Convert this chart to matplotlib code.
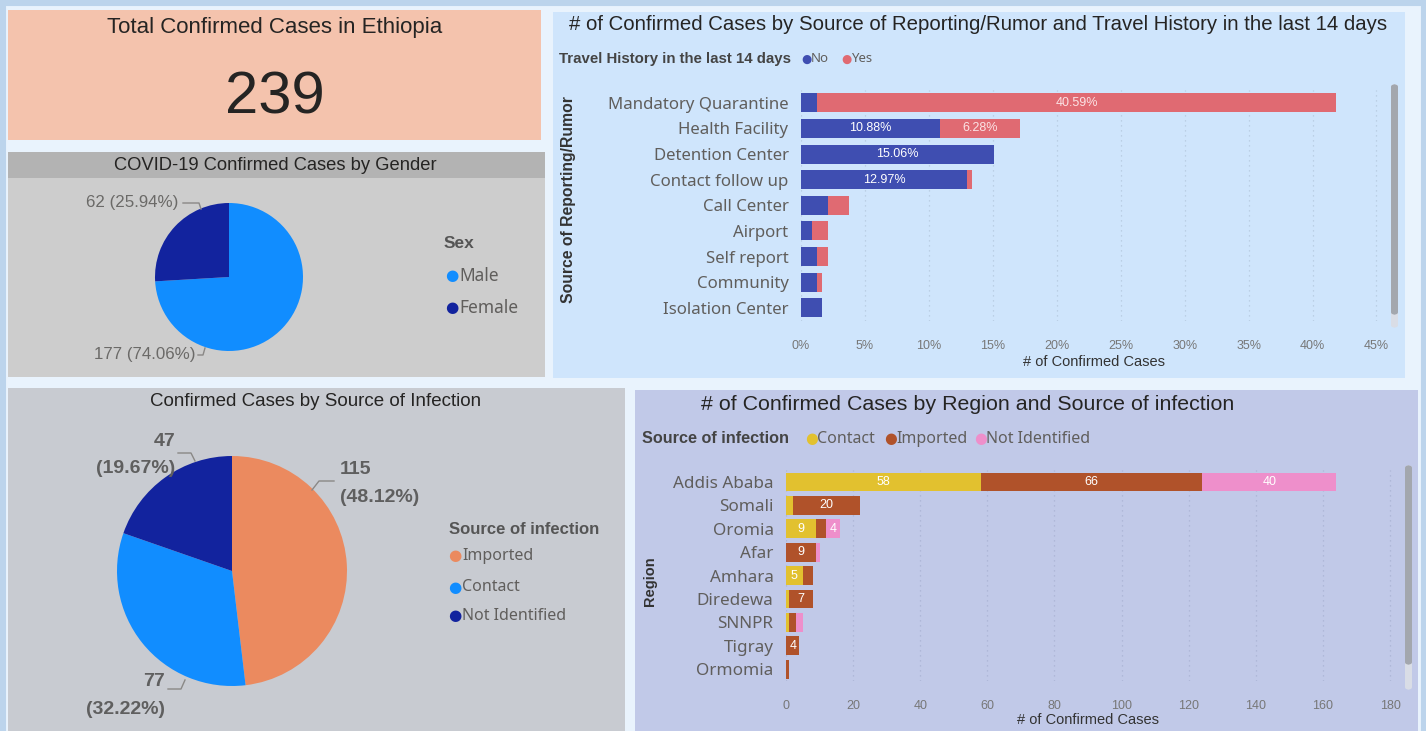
import matplotlib
matplotlib.use('Agg')
import matplotlib.pyplot as plt
from matplotlib.patches import Rectangle, FancyBboxPatch
from matplotlib.lines import Line2D
import numpy as np

W, H = 1426, 731

# ---- data ----
total_cases = 239

sex_labels = ['Male', 'Female']
sex_counts = [177, 62]

infection_labels = ['Imported', 'Contact', 'Not Identified']
infection_counts = [115, 77, 47]

sources = ['Mandatory Quarantine', 'Health Facility', 'Detention Center', 'Contact follow up',
           'Call Center', 'Airport', 'Self report', 'Community', 'Isolation Center']
travel_no = [1.26, 10.88, 15.06, 12.97, 2.09, 0.84, 1.26, 1.26, 1.67]
travel_yes = [40.59, 6.28, 0, 0.42, 1.67, 1.26, 0.84, 0.42, 0]

regions = ['Addis Ababa', 'Somali', 'Oromia', 'Afar', 'Amhara', 'Diredewa', 'SNNPR', 'Tigray', 'Ormomia']
reg_contact = [58, 2, 9, 0, 5, 1, 1, 0, 0]
reg_imported = [66, 20, 3, 9, 3, 7, 2, 4, 1]
reg_notid = [40, 0, 4, 1, 0, 0, 2, 0, 0]

# colours
c_no, c_yes = '#3f4eb1', '#e06a72'
c_contact, c_imported, c_notid = '#e2c12f', '#b0522a', '#ee8fcb'
c_male, c_female = '#118dff', '#12239e'
pie2_colors = ['#eb8a5f', '#118dff', '#12239e']

TITLE = ['Liberation Sans', 'DejaVu Sans']
BODY = ['Noto Sans', 'DejaVu Sans']
dark = '#252423'
gray = '#605e5c'

fig = plt.figure(figsize=(W / 100, H / 100), dpi=100)
fig.patch.set_facecolor('#e9f3fd')


def box(x0, y0, x1, y1):
    return [x0 / W, 1 - y1 / H, (x1 - x0) / W, (y1 - y0) / H]


def panel(x0, y0, x1, y1, color):
    fig.patches.append(Rectangle((x0 / W, 1 - y1 / H), (x1 - x0) / W, (y1 - y0) / H,
                                 transform=fig.transFigure, facecolor=color,
                                 edgecolor='none', zorder=-5))


def ftext(x, y, s, **kw):
    kw.setdefault('va', 'center')
    return fig.text(x / W, 1 - y / H, s, **kw)


def fline(xs, ys, color='#8a8886', lw=1):
    fig.add_artist(Line2D([x / W for x in xs], [1 - y / H for y in ys],
                          transform=fig.transFigure, color=color, lw=lw))


def scrollbar(x, y0, y1, y2):
    fig.patches.append(FancyBboxPatch((x / W, 1 - y2 / H), 7 / W, (y2 - y0) / H,
                                      boxstyle='round,pad=0,rounding_size=0.004',
                                      transform=fig.transFigure, facecolor='#d9dde6',
                                      edgecolor='none', zorder=-1))
    fig.patches.append(FancyBboxPatch((x / W, 1 - y1 / H), 7 / W, (y1 - y0) / H,
                                      boxstyle='round,pad=0,rounding_size=0.004',
                                      transform=fig.transFigure, facecolor='#a3a7ae',
                                      edgecolor='none', zorder=-1))


def dot_legend(x, y, title, labels, colors, size, gaps, bold_size):
    ftext(x, y, title, family=TITLE, fontsize=bold_size, fontweight='bold', color='#444')
    for lab, col, gx in zip(labels, colors, gaps):
        ftext(gx, y, '\u25cf', family=['DejaVu Sans'], fontsize=size - 1, color=col, ha='center')
        ftext(gx + 5, y, lab, family=BODY, fontsize=size, color=gray)


# outer frame (bottom edge is cut off in the screenshot)
fig.patches.append(Rectangle((0, -0.1), 1, 1.1, transform=fig.transFigure, facecolor='none',
                             edgecolor='#bcd4ec', lw=8, zorder=-6))

# ---- panels ----
panel(8, 10, 541, 140, '#f4c3ad')
panel(8, 152, 545, 377, '#cdcdcd')
panel(8, 152, 545, 178, '#b3b3b3')
panel(553, 12, 1405, 378, '#cfe5fc')
panel(8, 388, 625, 735, '#c8cbd1')
panel(635, 390, 1418, 735, '#c1c9e8')

# ---- KPI card ----
ftext(275, 27, 'Total Confirmed Cases in Ethiopia', family=TITLE, fontsize=16, color=dark, ha='center')
ftext(275, 98, f'{total_cases}', family=TITLE, fontsize=43, color=dark, ha='center')

# ---- gender pie ----
ftext(275, 166, 'COVID-19 Confirmed Cases by Gender', family=TITLE, fontsize=13.2, color=dark, ha='center')
cx, cy, r = 229, 277, 74
axp = fig.add_axes(box(cx - r, cy - r, cx + r, cy + r))
axp.pie(sex_counts, colors=[c_male, c_female], startangle=90, counterclock=False,
        wedgeprops=dict(linewidth=0))
axp.set_xlim(-1, 1)
axp.set_ylim(-1, 1)
tot = sum(sex_counts)
ftext(178, 203, f'{sex_counts[1]} ({sex_counts[1] / tot * 100:.2f}%)', family=TITLE, fontsize=12.2, color='#6b6a68', ha='right')
fline([183, 199, 201], [203, 203, 209])
ftext(195, 355, f'{sex_counts[0]} ({sex_counts[0] / tot * 100:.2f}%)', family=TITLE, fontsize=12.2, color='#6b6a68', ha='right')
fline([198, 203, 205], [355, 355, 348])
ftext(444, 244, 'Sex', family=TITLE, fontsize=12.5, fontweight='bold', color='#555')
for i, (lab, col) in enumerate(zip(sex_labels, [c_male, c_female])):
    ftext(452, 276 + 32 * i, '\u25cf', family=['DejaVu Sans'], fontsize=11, color=col, ha='center')
    ftext(459, 276 + 32 * i, lab, family=BODY, fontsize=12.5, color=gray)

# ---- source of infection pie ----
ftext(316, 401, 'Confirmed Cases by Source of Infection', family=TITLE, fontsize=13.5, color=dark, ha='center')
cx, cy, r = 232, 571, 115
axq = fig.add_axes(box(cx - r, cy - r, cx + r, cy + r))
axq.pie(infection_counts, colors=pie2_colors, startangle=90, counterclock=False,
        wedgeprops=dict(linewidth=0))
axq.set_xlim(-1, 1)
axq.set_ylim(-1, 1)
tot = sum(infection_counts)
lab_kw = dict(family=TITLE, fontsize=14, fontweight='bold', color='#5f5f5f')
ftext(340, 470, f'{infection_counts[0]}', ha='left', **lab_kw)
ftext(340, 497, f'({infection_counts[0] / tot * 100:.2f}%)', ha='left', **lab_kw)
fline([334, 319, 312], [481, 481, 490])
ftext(175, 441, f'{infection_counts[2]}', ha='right', **lab_kw)
ftext(175, 468, f'({infection_counts[2] / tot * 100:.2f}%)', ha='right', **lab_kw)
fline([178, 191, 195], [453, 453, 461])
ftext(165, 682, f'{infection_counts[1]}', ha='right', **lab_kw)
ftext(165, 710, f'({infection_counts[1] / tot * 100:.2f}%)', ha='right', **lab_kw)
fline([168, 181, 185], [689, 689, 680])
ftext(449, 530, 'Source of infection', family=TITLE, fontsize=12, fontweight='bold', color='#555')
for i, (lab, col) in enumerate(zip(infection_labels, pie2_colors)):
    yy = [556, 587, 616][i]
    ftext(455, yy, '\u25cf', family=['DejaVu Sans'], fontsize=11, color=col, ha='center')
    ftext(462, yy, lab, family=BODY, fontsize=11.5, color=gray)

# ---- travel history bar chart ----
ftext(978, 25, '# of Confirmed Cases by Source of Reporting/Rumor and Travel History in the last 14 days',
      family=TITLE, fontsize=14.7, color=dark, ha='center')
dot_legend(559, 59, 'Travel History in the last 14 days', ['No', 'Yes'], [c_no, c_yes], 9.5, [806, 846], 10.8)

ax1 = fig.add_axes(box(801, 90, 1388, 320.6))
ax1.set_facecolor('none')
yy = np.arange(len(sources))
ax1.barh(yy, travel_no, height=0.74, color=c_no, zorder=2)
ax1.barh(yy, travel_yes, left=travel_no, height=0.74, color=c_yes, zorder=2)
for i in range(len(sources)):
    if travel_no[i] >= 5:
        ax1.text(travel_no[i] / 2, i, f'{travel_no[i]:.2f}%', ha='center', va='center',
                 color='white', fontsize=9, family=TITLE, zorder=3)
    if travel_yes[i] >= 5:
        ax1.text(travel_no[i] + travel_yes[i] / 2, i, f'{travel_yes[i]:.2f}%', ha='center',
                 va='center', color='#fbe3e5', fontsize=9, family=TITLE, zorder=3)
ax1.set_ylim(len(sources) - 0.5, -0.5)
ax1.set_xlim(0, 45.9)
ax1.set_xticks(np.arange(0, 46, 5))
ax1.xaxis.set_major_formatter(lambda v, p: f'{v:.0f}%')
ax1.set_yticks(yy, sources)
ax1.tick_params(axis='x', length=0, pad=14, labelsize=9, labelcolor='#777')
ax1.tick_params(axis='y', length=0, pad=9, labelsize=12.1, labelcolor=gray)
for t in ax1.get_xticklabels():
    t.set_family(TITLE)
for t in ax1.get_yticklabels():
    t.set_family(BODY)
ax1.grid(axis='x', linestyle=(0, (1, 3)), color='#b5c9de', lw=0.9, zorder=0)
for s in ax1.spines.values():
    s.set_visible(False)
ftext(1094, 362, '# of Confirmed Cases', family=TITLE, fontsize=10.5, color='#333', ha='center')
ftext(569, 200, 'Source of Reporting/Rumor', family=TITLE, fontsize=11.3, fontweight='bold',
      color='#333', ha='center', rotation=90)
scrollbar(1391, 84, 315, 328)

# ---- region bar chart ----
ftext(968, 404, '# of Confirmed Cases by Region and Source of infection', family=TITLE,
      fontsize=15.4, color=dark, ha='center')
dot_legend(642, 439, 'Source of infection', ['Contact', 'Imported', 'Not Identified'],
           [c_contact, c_imported, c_notid], 11.5, [812, 891, 981], 11.7)

ax2 = fig.add_axes(box(786, 470.3, 1400, 680.9))
ax2.set_facecolor('none')
yr = np.arange(len(regions))
left2 = np.array(reg_contact) + np.array(reg_imported)
ax2.barh(yr, reg_contact, height=0.8, color=c_contact, zorder=2)
ax2.barh(yr, reg_imported, left=reg_contact, height=0.8, color=c_imported, zorder=2)
ax2.barh(yr, reg_notid, left=left2, height=0.8, color=c_notid, zorder=2)
starts = [np.zeros(len(regions)), np.array(reg_contact), left2]
for series, st in zip([reg_contact, reg_imported, reg_notid], starts):
    for i, v in enumerate(series):
        if v >= 4:
            ax2.text(st[i] + v / 2, i, f'{v}', ha='center', va='center', color='white',
                     fontsize=9, family=TITLE, zorder=3)
ax2.set_ylim(len(regions) - 0.5, -0.5)
ax2.set_xlim(0, (1400 - 786) / 3.356)
ax2.set_xticks(np.arange(0, 181, 20))
ax2.set_yticks(yr, regions)
ax2.tick_params(axis='x', length=0, pad=14, labelsize=9, labelcolor='#777')
ax2.tick_params(axis='y', length=0, pad=9, labelsize=12.3, labelcolor=gray)
for t in ax2.get_xticklabels():
    t.set_family(TITLE)
for t in ax2.get_yticklabels():
    t.set_family(BODY)
ax2.grid(axis='x', linestyle=(0, (1, 3)), color='#aab3d4', lw=0.9, zorder=0)
for s in ax2.spines.values():
    s.set_visible(False)
ftext(1088, 720, '# of Confirmed Cases', family=TITLE, fontsize=10.5, color='#333', ha='center')
ftext(650, 581, 'Region', family=TITLE, fontsize=10.5, fontweight='bold', color='#333',
      ha='center', rotation=90)
scrollbar(1405, 465, 665, 690)

fig.savefig('out.png', dpi=100, facecolor=fig.get_facecolor())
